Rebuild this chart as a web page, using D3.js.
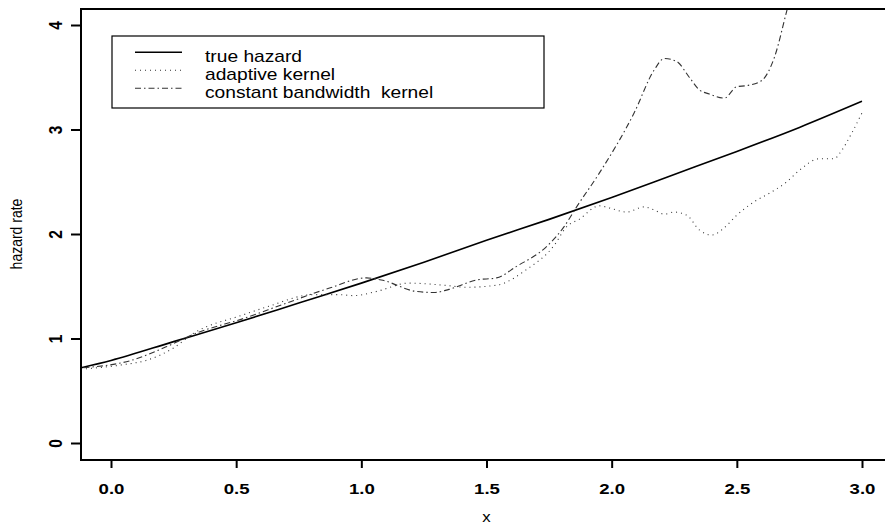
<!DOCTYPE html>
<html>
<head>
<meta charset="utf-8">
<script src="https://cdn.jsdelivr.net/npm/d3@7"></script>
<style>
  body { margin: 0; background: #fff; }
  text { font-family: "Liberation Sans", Arial, sans-serif; }
</style>
</head>
<body>
<script>
// values
const trueX = [-0.12, 0, 0.25, 0.5, 0.75, 1.0, 1.25, 1.5, 1.75, 2.0, 2.25, 2.5, 2.75, 3.0];
const trueY = [0.72, 0.79, 0.97, 1.15, 1.34, 1.53, 1.73, 1.94, 2.14, 2.35, 2.57, 2.79, 3.02, 3.27];

const adaptX = [-0.1, 0.05, 0.14, 0.25, 0.33, 0.52, 0.62, 0.81, 0.91, 0.97, 1.06, 1.19, 1.33, 1.42, 1.54, 1.66,
  1.77, 1.82, 1.87, 1.95, 1.99, 2.06, 2.13, 2.17, 2.21, 2.25, 2.30, 2.35, 2.40, 2.45, 2.50, 2.57, 2.63, 2.70,
  2.75, 2.83, 2.89, 2.91, 2.96, 3.0];
const adaptY = [0.71, 0.75, 0.79, 0.91, 1.05, 1.22, 1.30, 1.42, 1.42, 1.41, 1.45, 1.53, 1.51, 1.49, 1.51, 1.66,
  1.89, 2.07, 2.14, 2.27, 2.25, 2.21, 2.26, 2.23, 2.19, 2.21, 2.18, 2.04, 1.99, 2.06, 2.18, 2.31, 2.39, 2.50,
  2.61, 2.72, 2.72, 2.77, 2.97, 3.16];

const constX = [-0.11, 0.08, 0.22, 0.34, 0.54, 0.68, 0.87, 1.02, 1.08, 1.22, 1.29, 1.35, 1.46, 1.54, 1.62, 1.74,
  1.81, 1.86, 1.95, 2.09, 2.17, 2.21, 2.26, 2.31, 2.35, 2.39, 2.45, 2.50, 2.54, 2.60, 2.65, 2.70, 2.75];
const constY = [0.72, 0.79, 0.92, 1.05, 1.20, 1.32, 1.48, 1.58, 1.56, 1.45, 1.44, 1.47, 1.56, 1.58, 1.69, 1.88,
  2.07, 2.26, 2.58, 3.16, 3.57, 3.68, 3.65, 3.50, 3.38, 3.34, 3.30, 3.41, 3.42, 3.47, 3.69, 4.14, 4.6];

const xTicks = [0, 0.5, 1, 1.5, 2, 2.5, 3];
const yTicks = [0, 1, 2, 3, 4];
const legendLabels = ["true hazard", "adaptive kernel", "constant bandwidth  kernel"];

const W = 885, H = 531;
const box = { left: 81, top: 9, bottom: 460, right: 900 };
const sx = 1.2; // the original text is stretched sideways

const x = d3.scaleLinear().domain([0, 3]).range([111, 862]);
const y = d3.scaleLinear().domain([0, 4]).range([443, 25]);

const svg = d3.select("body").append("svg")
  .attr("width", W)
  .attr("height", H);

svg.append("defs").append("clipPath").attr("id", "plotclip")
  .append("rect")
  .attr("x", box.left).attr("y", box.top)
  .attr("width", box.right - box.left).attr("height", box.bottom - box.top);

const series = [
  { xs: trueX, ys: trueY, color: "#000", width: 1.6, dash: null },
  { xs: adaptX, ys: adaptY, color: "#333", width: 1.1, dash: "1,4" },
  { xs: constX, ys: constY, color: "#333", width: 1.1, dash: "6,3,1.5,3" }
];

const line = d3.line()
  .x((d) => x(d[0]))
  .y((d) => y(d[1]))
  .curve(d3.curveMonotoneX);

const plot = svg.append("g").attr("clip-path", "url(#plotclip)");

series.forEach((s) => {
  plot.append("path")
    .datum(s.xs.map((v, i) => [v, s.ys[i]]))
    .attr("fill", "none")
    .attr("stroke", s.color)
    .attr("stroke-width", s.width)
    .attr("stroke-dasharray", s.dash)
    .attr("d", line);
});

// frame (right side runs off the page)
svg.append("path")
  .attr("d", `M${box.right},${box.top}H${box.left}V${box.bottom}H${box.right}`)
  .attr("fill", "none")
  .attr("stroke", "#000")
  .attr("stroke-width", 2);

// axes
const xAxis = svg.append("g")
  .attr("transform", `translate(0,${box.bottom})`)
  .call(d3.axisBottom(x).tickValues(xTicks).tickSize(8).tickPadding(15).tickFormat(d3.format(".1f")));
xAxis.select(".domain").remove();
xAxis.selectAll("line").attr("stroke-width", 2);
xAxis.selectAll("text")
  .attr("transform", `scale(${sx},1)`)
  .attr("font-size", 15.5).attr("font-weight", "bold")
  .attr("font-family", "Liberation Sans, Arial, sans-serif");

const yAxis = svg.append("g")
  .attr("transform", `translate(${box.left},0)`)
  .call(d3.axisLeft(y).tickValues(yTicks).tickSize(10).tickFormat(d3.format("d")));
yAxis.select(".domain").remove();
yAxis.selectAll("line").attr("stroke-width", 2);
yAxis.selectAll("text")
  .attr("x", null)
  .attr("text-anchor", "middle")
  .attr("transform", `translate(-26,0) scale(${sx},1) rotate(-90)`)
  .attr("dy", "0.36em")
  .attr("font-size", 15.5).attr("font-weight", "bold")
  .attr("font-family", "Liberation Sans, Arial, sans-serif");

// axis titles
svg.append("text")
  .attr("transform", `translate(${x(1.5)},522) scale(${sx},1)`)
  .attr("text-anchor", "middle")
  .attr("font-size", 14)
  .text("x");

svg.append("text")
  .attr("transform", `translate(22,${y(2)}) scale(${sx},1) rotate(-90)`)
  .attr("text-anchor", "middle")
  .attr("font-size", 14)
  .text("hazard rate");

// legend
const leg = svg.append("g");
leg.append("rect")
  .attr("x", 112).attr("y", 36)
  .attr("width", 432).attr("height", 72)
  .attr("fill", "#fff")
  .attr("stroke", "#000")
  .attr("stroke-width", 1.2);

legendLabels.forEach((lab, i) => {
  const yy = 52.3 + i * 18;
  leg.append("line")
    .attr("x1", 135).attr("x2", 182)
    .attr("y1", yy).attr("y2", yy)
    .attr("stroke", series[i].color)
    .attr("stroke-width", series[i].width)
    .attr("stroke-dasharray", series[i].dash);
  leg.append("text")
    .attr("transform", `translate(205,${yy + 9.3}) scale(${sx},1)`)
    .attr("font-size", 16)
    .style("white-space", "pre")
    .text(lab);
});
</script>
</body>
</html>
